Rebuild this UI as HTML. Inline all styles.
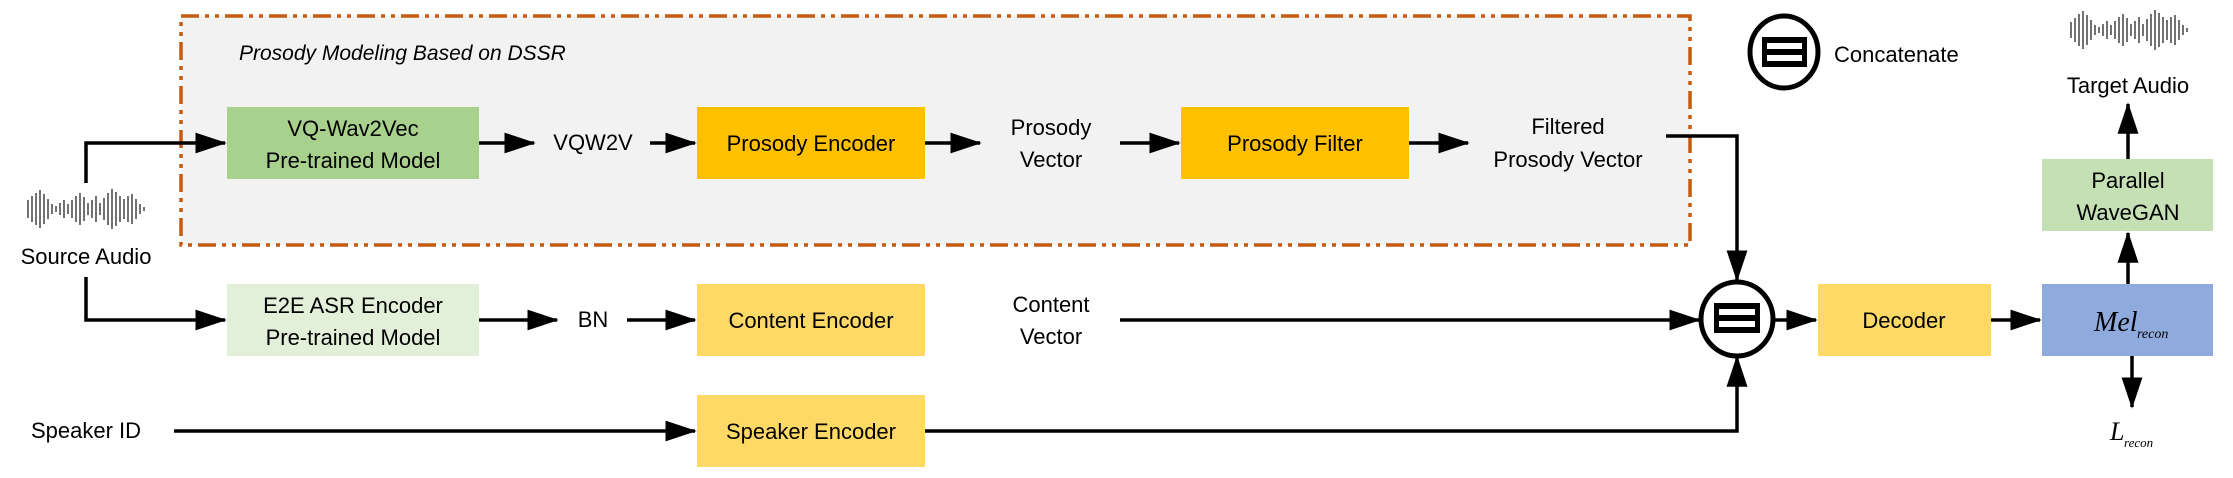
<!DOCTYPE html>
<html><head><meta charset="utf-8"><style>
html,body{margin:0;padding:0;background:#fff}
svg{display:block}
text{font-family:"Liberation Sans",sans-serif;font-size:22px;fill:#000}
</style></head><body>
<svg width="2233" height="478" viewBox="0 0 2233 478" xmlns="http://www.w3.org/2000/svg">
<defs>
<marker id="a" markerWidth="9" markerHeight="6" refX="8.5" refY="3" orient="auto" markerUnits="strokeWidth">
<path d="M0,0 L9,3 L0,6 Z" fill="#000"/></marker>
</defs>
<rect x="181" y="16" width="1509" height="229" fill="#f2f2f2" stroke="#c55a11" stroke-width="3.5" stroke-dasharray="18,6,4,6,4,6"/>
<text x="239" y="60" style="font-style:italic;font-size:21px">Prosody Modeling Based on DSSR</text>

<rect x="227" y="107" width="252" height="72" fill="#a9d18e"/>
<text x="353" y="136" text-anchor="middle">VQ-Wav2Vec</text>
<text x="353" y="168" text-anchor="middle">Pre-trained Model</text>
<rect x="697" y="107" width="228" height="72" fill="#ffc000"/>
<text x="811" y="151" text-anchor="middle">Prosody Encoder</text>
<rect x="1181" y="107" width="228" height="72" fill="#ffc000"/>
<text x="1295" y="151" text-anchor="middle">Prosody Filter</text>

<rect x="227" y="284" width="252" height="72" fill="#e2efd9"/>
<text x="353" y="313" text-anchor="middle">E2E ASR Encoder</text>
<text x="353" y="345" text-anchor="middle">Pre-trained Model</text>
<rect x="697" y="284" width="228" height="72" fill="#ffd966"/>
<text x="811" y="328" text-anchor="middle">Content Encoder</text>
<rect x="697" y="395" width="228" height="72" fill="#ffd966"/>
<text x="811" y="439" text-anchor="middle">Speaker Encoder</text>

<rect x="1818" y="284" width="173" height="72" fill="#ffd966"/>
<text x="1904" y="328" text-anchor="middle">Decoder</text>
<rect x="2042" y="284" width="171" height="72" fill="#8faadc"/>
<text x="2094" y="331" style="font-family:'Liberation Serif',serif;font-style:italic;font-size:28px">Mel</text>
<text x="2137" y="338" style="font-family:'Liberation Serif',serif;font-style:italic;font-size:14px">recon</text>
<rect x="2042" y="159" width="171" height="72" fill="#c5e0b4"/>
<text x="2128" y="188" text-anchor="middle">Parallel</text>
<text x="2128" y="220" text-anchor="middle">WaveGAN</text>

<text x="593" y="150" text-anchor="middle">VQW2V</text>
<text x="1051" y="135" text-anchor="middle">Prosody</text>
<text x="1051" y="167" text-anchor="middle">Vector</text>
<text x="1568" y="134" text-anchor="middle">Filtered</text>
<text x="1568" y="167" text-anchor="middle">Prosody Vector</text>
<text x="593" y="327" text-anchor="middle">BN</text>
<text x="1051" y="312" text-anchor="middle">Content</text>
<text x="1051" y="344" text-anchor="middle">Vector</text>
<text x="86" y="264" text-anchor="middle">Source Audio</text>
<text x="86" y="438" text-anchor="middle">Speaker ID</text>
<text x="2128" y="93" text-anchor="middle">Target Audio</text>
<text x="1834" y="62">Concatenate</text>
<text x="2110" y="440" style="font-family:'Liberation Serif',serif;font-style:italic;font-size:26px">L</text>
<text x="2124" y="447" style="font-family:'Liberation Serif',serif;font-style:italic;font-size:13px">recon</text>

<g stroke="#000" stroke-width="3.5" fill="none">
<path d="M86,183 V143 H225" marker-end="url(#a)"/>
<path d="M86,277 V320 H225" marker-end="url(#a)"/>
<path d="M479,143 H534" marker-end="url(#a)"/>
<path d="M650,143 H695" marker-end="url(#a)"/>
<path d="M925,143 H980" marker-end="url(#a)"/>
<path d="M1120,143 H1179" marker-end="url(#a)"/>
<path d="M1409,143 H1468" marker-end="url(#a)"/>
<path d="M1666,136 H1737 V280" marker-end="url(#a)"/>
<path d="M479,320 H557" marker-end="url(#a)"/>
<path d="M627,320 H695" marker-end="url(#a)"/>
<path d="M1120,320 H1699" marker-end="url(#a)"/>
<path d="M174,431 H695" marker-end="url(#a)"/>
<path d="M925,431 H1737 V357" marker-end="url(#a)"/>
<path d="M1775,320 H1816" marker-end="url(#a)"/>
<path d="M1991,320 H2040" marker-end="url(#a)"/>
<path d="M2128,284 V233" marker-end="url(#a)"/>
<path d="M2128,159 V104" marker-end="url(#a)"/>
<path d="M2132,356 V407" marker-end="url(#a)"/>
</g>

<g>
<ellipse cx="1737" cy="319" rx="36" ry="37" fill="#fff" stroke="#000" stroke-width="5"/>
<rect x="1714" y="303" width="46" height="30" fill="#000"/>
<rect x="1719" y="309" width="36" height="6" fill="#fff"/>
<rect x="1719" y="321" width="36" height="6" fill="#fff"/>
<ellipse cx="1784" cy="52" rx="34" ry="36" fill="#fff" stroke="#000" stroke-width="5"/>
<rect x="1762" y="37" width="45" height="30" fill="#000"/>
<rect x="1767" y="43" width="35" height="6" fill="#fff"/>
<rect x="1767" y="55" width="35" height="6" fill="#fff"/>
</g>

<g stroke="#444" stroke-width="1.5">
<path d="M28,200v18 M32,196v26 M36,193v32 M40,190v38 M44,194v30 M48,199v20 M52,204v10 M56,206v6 M60,203v12 M64,200v18 M68,204v10 M72,200v18 M76,196v26 M80,193v32 M84,197v24 M88,203v12 M92,200v18 M96,196v26 M100,203v12 M104,198v22 M108,193v32 M112,189v40 M116,192v34 M120,196v26 M124,199v20 M128,196v26 M132,194v30 M136,199v20 M140,204v10 M144,207v4"/>
<path d="M2071,22v16 M2075,18v24 M2079,14v32 M2083,11v38 M2087,15v30 M2091,20v20 M2095,25v10 M2099,27v6 M2103,24v12 M2107,21v18 M2111,25v10 M2115,21v18 M2119,17v26 M2123,14v32 M2127,18v24 M2131,24v12 M2135,21v18 M2139,17v26 M2143,24v12 M2147,19v22 M2151,14v32 M2155,10v40 M2159,13v34 M2163,17v26 M2167,20v20 M2171,17v26 M2175,15v30 M2179,20v20 M2183,25v10 M2187,28v4"/>
</g>
</svg>
</body></html>
